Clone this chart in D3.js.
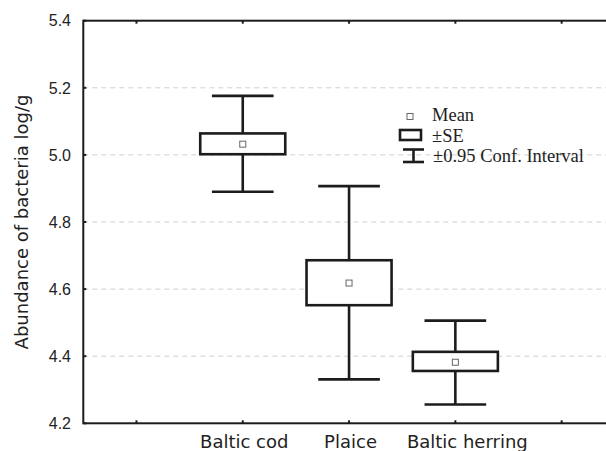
<!DOCTYPE html>
<html>
  <head>
    <script src="https://cdn.jsdelivr.net/npm/d3@7/dist/d3.min.js"></script>
    <style>
      body { margin: 0; background: #fff; }
    </style>
  </head>
  <body>
    <svg width="606" height="451" id="mainsvg"></svg>
    <script>
      // 数据
      const categories = ["Baltic cod", "Plaice", "Baltic herring"];
      const means = [5.032, 4.618, 4.382];
      const seLow = [5.002, 4.552, 4.356];
      const seHigh = [5.064, 4.686, 4.413];
      const ciLow = [4.89, 4.331, 4.256];
      const ciHigh = [5.176, 4.907, 4.506];
      const yTicks = [4.2, 4.4, 4.6, 4.8, 5.0, 5.2, 5.4];
      const legendLabels = ["Mean", "\u00b1SE", "\u00b10.95 Conf. Interval"];

      const svg = d3.select("#mainsvg");
      const pLeft = 83.3, pRight = 614.8, pTop = 20.7, pBottom = 423.3;

      // 5 个刻度位置, 分类在 1..3
      const x = d3.scaleLinear().domain([-0.5, 4.5]).range([pLeft, pRight]);
      const y = d3.scaleLinear().domain([4.2, 5.4]).range([pBottom, pTop]);
      const ink = "#1c1c1c";

      // 网格线
      svg.append("g")
        .selectAll("line")
        .data(yTicks.slice(1, -1))
        .join("line")
        .attr("x1", pLeft).attr("x2", pRight)
        .attr("y1", (d) => y(d)).attr("y2", (d) => y(d))
        .attr("stroke", "#cfcfcf")
        .attr("stroke-dasharray", "5,4")
        .attr("stroke-width", 1);

      // y 轴文字
      svg.append("g")
        .selectAll("text")
        .data(yTicks)
        .join("text")
        .attr("x", 71)
        .attr("y", (d) => y(d))
        .attr("dy", "0.36em")
        .attr("text-anchor", "end")
        .attr("font-family", "Liberation Sans, Arial, sans-serif")
        .attr("font-size", 16)
        .attr("fill", "#222")
        .text((d) => d.toFixed(1));

      // 内侧刻度
      const xt = d3.range(5);
      svg.append("g").selectAll("line").data(xt).join("line")
        .attr("x1", (d) => x(d)).attr("x2", (d) => x(d))
        .attr("y1", pBottom).attr("y2", pBottom - 3)
        .attr("stroke", ink).attr("stroke-width", 2);
      svg.append("g").selectAll("line").data(xt).join("line")
        .attr("x1", (d) => x(d)).attr("x2", (d) => x(d))
        .attr("y1", pTop).attr("y2", pTop + 3)
        .attr("stroke", ink).attr("stroke-width", 2);
      svg.append("g").selectAll("line").data(yTicks).join("line")
        .attr("x1", pLeft).attr("x2", pLeft + 3)
        .attr("y1", (d) => y(d)).attr("y2", (d) => y(d))
        .attr("stroke", ink).attr("stroke-width", 2);

      // 边框
      svg.append("rect")
        .attr("x", pLeft).attr("y", pTop)
        .attr("width", pRight - pLeft).attr("height", pBottom - pTop)
        .attr("fill", "none").attr("stroke", ink).attr("stroke-width", 2);

      // 箱体 + 误差线
      const rows = categories.map((c, i) => ({ c, i: i + 1, m: means[i], sl: seLow[i], sh: seHigh[i], cl: ciLow[i], ch: ciHigh[i] }));
      const boxW = 0.4, capW = 0.29;
      const g = svg.append("g").selectAll("g").data(rows).join("g");
      g.append("line")
        .attr("x1", (d) => x(d.i)).attr("x2", (d) => x(d.i))
        .attr("y1", (d) => y(d.ch)).attr("y2", (d) => y(d.cl))
        .attr("stroke", ink).attr("stroke-width", 2.6);
      g.append("line")
        .attr("x1", (d) => x(d.i - capW)).attr("x2", (d) => x(d.i + capW))
        .attr("y1", (d) => y(d.ch)).attr("y2", (d) => y(d.ch))
        .attr("stroke", ink).attr("stroke-width", 2.6);
      g.append("line")
        .attr("x1", (d) => x(d.i - capW)).attr("x2", (d) => x(d.i + capW))
        .attr("y1", (d) => y(d.cl)).attr("y2", (d) => y(d.cl))
        .attr("stroke", ink).attr("stroke-width", 2.6);
      g.append("rect")
        .attr("x", (d) => x(d.i - boxW))
        .attr("y", (d) => y(d.sh))
        .attr("width", (d) => x(d.i + boxW) - x(d.i - boxW))
        .attr("height", (d) => y(d.sl) - y(d.sh))
        .attr("fill", "#fff").attr("stroke", ink).attr("stroke-width", 2.6);
      g.append("rect")
        .attr("x", (d) => x(d.i) - 3)
        .attr("y", (d) => y(d.m) - 3)
        .attr("width", 6).attr("height", 6)
        .attr("fill", "#fff").attr("stroke", "#666").attr("stroke-width", 1);

      // x 轴文字
      svg.append("g").selectAll("text").data(rows).join("text")
        .attr("x", (d) => x(d.i) + (d.i === 3 ? 12 : 1.5))
        .attr("y", 448)
        .attr("text-anchor", "middle")
        .attr("font-family", "DejaVu Sans, sans-serif")
        .attr("font-size", 18)
        .attr("fill", "#222")
        .text((d) => d.c);

      // y 轴标题
      svg.append("text")
        .attr("transform", "translate(28,222) rotate(-90)")
        .attr("text-anchor", "middle")
        .attr("font-family", "DejaVu Sans, sans-serif")
        .attr("font-size", 18)
        .attr("fill", "#222")
        .text("Abundance of bacteria log/g");

      // 图例
      const lg = svg.append("g").attr("font-family", "Liberation Serif, Times New Roman, serif").attr("font-size", 18.5).attr("fill", "#222");
      lg.append("rect").attr("x", 407).attr("y", 113.5).attr("width", 6).attr("height", 6)
        .attr("fill", "#fff").attr("stroke", "#666").attr("stroke-width", 1);
      lg.append("rect").attr("x", 400).attr("y", 130).attr("width", 21).attr("height", 10)
        .attr("fill", "#fff").attr("stroke", ink).attr("stroke-width", 2.6);
      lg.append("line").attr("x1", 403).attr("x2", 424).attr("y1", 149.5).attr("y2", 149.5).attr("stroke", ink).attr("stroke-width", 2.6);
      lg.append("line").attr("x1", 403).attr("x2", 424).attr("y1", 162).attr("y2", 162).attr("stroke", ink).attr("stroke-width", 2.6);
      lg.append("line").attr("x1", 413.5).attr("x2", 413.5).attr("y1", 149.5).attr("y2", 162).attr("stroke", ink).attr("stroke-width", 2.6);
      lg.selectAll("text").data(legendLabels).join("text")
        .attr("x", (d, i) => (i === 2 ? 433 : 432))
        .attr("y", (d, i) => [121, 142, 162][i])
        .text((d) => d);
    </script>
  </body>
</html>
